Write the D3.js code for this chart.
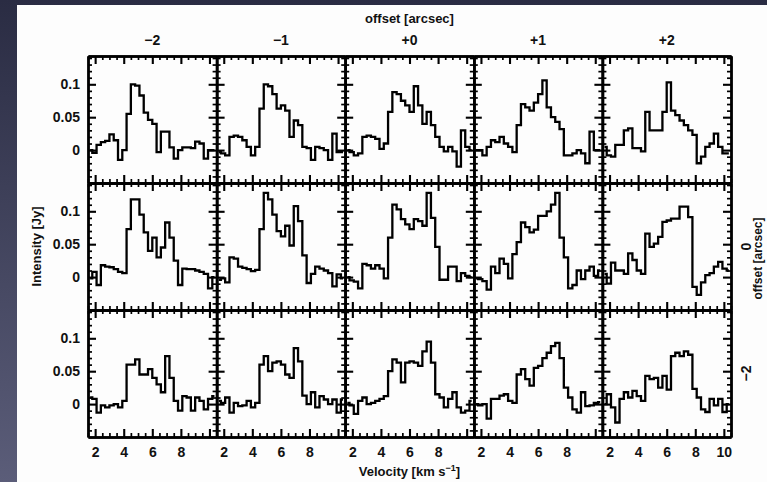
<!DOCTYPE html>
<html>
<head>
<meta charset="utf-8">
<script src="https://cdn.jsdelivr.net/npm/d3@7"></script>
<style>
  html, body { margin: 0; padding: 0; width: 767px; height: 482px; overflow: hidden; background: #3a3c56; }
  svg { display: block; }
  text { font-family: "Liberation Sans", Arial, Helvetica, sans-serif; font-weight: bold; fill: #111; }
</style>
</head>
<body>
<svg id="chart" width="767" height="482"></svg>
<script>
// Channel centre velocities (km/s), shared by every spectrum
const velocity = [1.65, 1.95, 2.25, 2.55, 2.85, 3.15, 3.45, 3.75, 4.05, 4.35,
                  4.65, 4.95, 5.25, 5.55, 5.85, 6.15, 6.45, 6.75, 7.05, 7.35,
                  7.65, 7.95, 8.25, 8.55, 8.85, 9.15, 9.45, 9.75, 10.05, 10.35];

// Column (RA) and row (Dec) offsets in arcsec
const colOffsets = ["\u22122", "\u22121", "+0", "+1", "+2"];
const rowOffsets = ["", "0", "\u22122"];

// Axis ticks
const yTickValues = [0, 0.05, 0.1];
const yTickLabels = ["0", "0.05", "0.1"];
const xTickValues = [2, 4, 6, 8];
const xTickValuesLast = [2, 4, 6, 8, 10];

// Spectra, intensity in Jy, top row
const specTopM2 = [0.0, -0.004, 0.008, 0.012, 0.014, 0.024, 0.015, -0.015, 0.0, 0.055, 0.1, 0.098, 0.083, 0.057, 0.046, 0.04, -0.003, 0.028, 0.028, 0.004, -0.013, 0.0, 0.004, 0.004, 0.003, 0.013, 0.01, -0.013, 0.0, 0.0];
const specTopM1 = [-0.003, -0.005, -0.008, 0.02, 0.022, 0.02, 0.015, 0.005, -0.008, 0.005, 0.063, 0.1, 0.097, 0.085, 0.063, 0.068, 0.06, 0.02, 0.045, 0.038, 0.005, 0.003, -0.015, 0.005, 0.003, 0.0, -0.015, 0.025, -0.003, -0.003];
const specTopP0 = [0.0, -0.003, -0.008, -0.005, 0.02, 0.022, 0.02, 0.017, 0.002, 0.01, 0.058, 0.088, 0.085, 0.075, 0.068, 0.058, 0.097, 0.068, 0.04, 0.058, 0.038, 0.02, 0.005, -0.002, 0.005, -0.002, -0.025, 0.03, 0.005, 0.0];
const specTopP1 = [0.0, 0.0, -0.008, 0.005, 0.015, 0.012, 0.02, 0.01, 0.005, -0.003, 0.038, 0.07, 0.065, 0.06, 0.072, 0.085, 0.106, 0.065, 0.05, 0.043, 0.032, -0.008, -0.008, -0.005, 0.0, -0.005, -0.02, 0.028, 0.0, 0.0];
const specTopP2 = [0.005, -0.008, -0.01, 0.008, 0.008, 0.03, 0.033, 0.003, 0.003, -0.002, 0.058, 0.03, 0.03, 0.03, 0.058, 0.103, 0.06, 0.053, 0.045, 0.038, 0.03, 0.023, -0.02, -0.01, 0.005, 0.01, 0.025, 0.005, -0.005, -0.005];

// middle row
const specMidM2 = [-0.002, 0.008, -0.012, 0.018, 0.016, 0.015, 0.012, 0.008, 0.006, 0.073, 0.118, 0.118, 0.095, 0.068, 0.04, 0.06, 0.03, 0.045, 0.083, 0.06, 0.025, -0.012, 0.013, 0.012, 0.012, 0.01, 0.008, 0.005, -0.017, 0.0];
const specMidM1 = [-0.004, -0.002, -0.008, 0.03, 0.028, 0.016, 0.014, 0.012, 0.009, 0.011, 0.073, 0.128, 0.118, 0.095, 0.07, 0.062, 0.078, 0.048, 0.108, 0.085, 0.033, -0.009, 0.005, 0.016, 0.013, 0.01, 0.006, -0.014, 0.004, -0.002];
const specMidP0 = [0.0, -0.005, -0.007, -0.017, 0.02, 0.018, 0.013, 0.018, 0.013, -0.002, 0.06, 0.11, 0.103, 0.088, 0.08, 0.073, 0.088, 0.085, 0.078, 0.128, 0.09, 0.046, -0.004, -0.004, 0.016, 0.016, -0.006, 0.006, 0.002, 0.0];
const specMidP1 = [-0.002, -0.003, -0.006, -0.019, 0.016, 0.006, 0.028, 0.02, -0.002, 0.035, 0.053, 0.083, 0.076, 0.068, 0.072, 0.093, 0.093, 0.1, 0.11, 0.128, 0.06, 0.03, -0.017, -0.012, 0.01, -0.003, 0.01, 0.016, 0.002, 0.01];
const specMidP2 = [0.005, -0.01, 0.022, 0.01, 0.01, 0.005, 0.036, 0.026, 0.01, 0.005, 0.066, 0.046, 0.051, 0.061, 0.084, 0.086, 0.089, 0.089, 0.107, 0.107, 0.091, -0.015, -0.027, -0.008, 0.003, 0.006, 0.016, 0.023, 0.013, 0.01];

// bottom row
const specBotM2 = [0.01, 0.008, -0.013, -0.002, -0.005, -0.002, 0.0, -0.005, 0.005, 0.06, 0.06, 0.068, 0.045, 0.045, 0.053, 0.04, 0.03, 0.018, 0.073, 0.04, 0.005, -0.01, 0.012, 0.01, -0.01, 0.01, 0.005, -0.008, 0.008, 0.012];
const specBotM1 = [0.005, 0.002, 0.01, -0.013, 0.002, -0.003, -0.002, 0.005, -0.005, 0.002, 0.06, 0.073, 0.05, 0.063, 0.065, 0.06, 0.045, 0.04, 0.085, 0.065, 0.013, 0.0, 0.018, -0.005, 0.012, 0.007, 0.0, 0.007, -0.013, 0.007];
const specBotP0 = [0.002, -0.002, -0.015, 0.005, 0.01, 0.0, 0.002, 0.005, 0.008, 0.012, 0.05, 0.068, 0.063, 0.033, 0.063, 0.065, 0.063, 0.058, 0.08, 0.095, 0.063, 0.015, 0.01, -0.005, 0.008, 0.018, -0.005, -0.013, -0.01, 0.005];
const specBotP1 = [0.0, -0.002, 0.0, -0.022, 0.008, 0.008, 0.013, 0.015, 0.005, 0.002, 0.045, 0.053, 0.038, 0.028, 0.055, 0.058, 0.07, 0.078, 0.088, 0.093, 0.07, 0.025, 0.01, -0.008, -0.013, 0.018, -0.003, -0.002, 0.002, 0.003];
const specBotP2 = [0.0, 0.015, -0.005, -0.028, 0.008, 0.018, 0.01, 0.02, 0.012, 0.005, 0.043, 0.038, 0.04, 0.025, 0.043, 0.022, 0.073, 0.078, 0.073, 0.08, 0.075, 0.023, 0.01, -0.008, -0.012, 0.008, -0.002, 0.008, -0.012, 0.0];

const spectraGrid = [
  [specTopM2, specTopM1, specTopP0, specTopP1, specTopP2],
  [specMidM2, specMidM1, specMidP0, specMidP1, specMidP2],
  [specBotM2, specBotM1, specBotP0, specBotP1, specBotP2]
];

// ---- layout ----
const W = 767, H = 482;
const grid = { left: 88, top: 56, right: 731, bottom: 437 };
const nCols = 5, nRows = 3;
const pw = (grid.right - grid.left) / nCols;
const ph = (grid.bottom - grid.top) / nRows;

const svg = d3.select("#chart");

// slide backdrop and white figure sheet
const defs = svg.append("defs");
const grad = defs.append("linearGradient").attr("id", "slideBg")
  .attr("x1", 0).attr("y1", 0).attr("x2", 0).attr("y2", 1);
grad.append("stop").attr("offset", "0%").attr("stop-color", "#2a2c43");
grad.append("stop").attr("offset", "100%").attr("stop-color", "#5b5d79");
svg.append("rect").attr("width", W).attr("height", H).attr("fill", "url(#slideBg)");
svg.append("rect").attr("x", 17).attr("y", 5).attr("width", W - 17).attr("height", H - 5).attr("fill", "#fdfdfd");

const x = d3.scaleLinear().domain([1.5, 10.5]).range([0, pw]);
const y = d3.scaleLinear().domain([-0.05, 0.143]).range([ph, 0]);

const xMinor = d3.range(1.5, 10.51, 0.5).filter(v => Math.abs(v / 2 - Math.round(v / 2)) > 1e-6);
const xMajor = [2, 4, 6, 8, 10];
const yMinor = d3.range(-0.04, 0.1401, 0.01).map(v => +v.toFixed(3)).filter(v => ![0, 0.05, 0.1].includes(v));
const yMajor = [0, 0.05, 0.1];

const stepLine = d3.line()
  .x((d, i) => x(velocity[i]))
  .y(d => y(d))
  .curve(d3.curveStep);

function styleAxis(g, tickW) {
  g.selectAll(".domain").attr("stroke", "#000").attr("stroke-width", 2.4);
  g.selectAll(".tick line").attr("stroke", "#000").attr("stroke-width", tickW);
  g.selectAll(".tick text").remove();
}

for (let r = 0; r < nRows; r++) {
  for (let c = 0; c < nCols; c++) {
    const g = svg.append("g")
      .attr("transform", `translate(${grid.left + c * pw},${grid.top + r * ph})`);

    // inward ticks on all four sides
    const sides = [
      { axis: d3.axisBottom(x), t: "translate(0,0)", major: xMajor, minor: xMinor },
      { axis: d3.axisTop(x), t: `translate(0,${ph})`, major: xMajor, minor: xMinor },
      { axis: d3.axisRight(y), t: "translate(0,0)", major: yMajor, minor: yMinor },
      { axis: d3.axisLeft(y), t: `translate(${pw},0)`, major: yMajor, minor: yMinor }
    ];
    sides.forEach(s => {
      g.append("g").attr("transform", s.t)
        .call(s.axis.tickValues(s.minor).tickSizeInner(4).tickSizeOuter(0))
        .call(a => styleAxis(a, 1.7));
      g.append("g").attr("transform", s.t)
        .call(s.axis.tickValues(s.major).tickSizeInner(8).tickSizeOuter(0))
        .call(a => styleAxis(a, 2.1));
    });

    // spectrum
    g.append("path")
      .datum(spectraGrid[r][c])
      .attr("d", stepLine)
      .attr("fill", "none")
      .attr("stroke", "#000")
      .attr("stroke-width", 2.3)
      .attr("stroke-linejoin", "miter");

    // intensity labels on the left column
    if (c === 0) {
      g.append("g")
        .call(d3.axisLeft(y).tickValues(yTickValues).tickSize(0).tickPadding(8)
          .tickFormat((d, i) => yTickLabels[i]))
        .call(a => a.select(".domain").remove())
        .selectAll("text")
        .style("font-size", "14px").style("font-family", null);
    }
    // velocity labels on the bottom row
    if (r === nRows - 1) {
      g.append("g").attr("transform", `translate(0,${ph})`)
        .call(d3.axisBottom(x).tickValues(c === nCols - 1 ? xTickValuesLast : xTickValues)
          .tickSize(0).tickPadding(10).tickFormat(d3.format("d")))
        .call(a => a.select(".domain").remove())
        .selectAll("text")
        .style("font-size", "14px").style("font-family", null);
    }
    // column offsets on top
    if (r === 0) {
      g.append("text")
        .attr("x", pw / 2).attr("y", -11)
        .attr("text-anchor", "middle")
        .style("font-size", "14px")
        .text(colOffsets[c]);
    }
    // row offsets on the right
    if (c === nCols - 1 && rowOffsets[r]) {
      g.append("text")
        .attr("transform", `translate(${pw + 15},${ph / 2}) rotate(-90)`)
        .attr("text-anchor", "middle")
        .attr("dy", "0.35em")
        .style("font-size", "14px")
        .text(rowOffsets[r]);
    }
  }
}

// axis titles
svg.append("text")
  .attr("x", (grid.left + grid.right) / 2).attr("y", 23)
  .attr("text-anchor", "middle")
  .style("font-size", "13px")
  .text("offset [arcsec]");

svg.append("text")
  .attr("transform", `translate(36,${(grid.top + grid.bottom) / 2}) rotate(-90)`)
  .attr("text-anchor", "middle")
  .attr("dy", "0.35em")
  .style("font-size", "13px")
  .text("Intensity [Jy]");

svg.append("text")
  .attr("transform", `translate(758,${(grid.top + grid.bottom) / 2 + 12}) rotate(-90)`)
  .attr("text-anchor", "middle")
  .attr("dy", "0.35em")
  .style("font-size", "12px")
  .text("offset [arcsec]");

const vel = svg.append("text")
  .attr("x", (grid.left + grid.right) / 2).attr("y", 476)
  .attr("text-anchor", "middle")
  .style("font-size", "13px");
vel.append("tspan").text("Velocity [km s");
vel.append("tspan").attr("dy", -5).style("font-size", "9px").text("\u22121");
vel.append("tspan").attr("dy", 5).text("]");
</script>
</body>
</html>
